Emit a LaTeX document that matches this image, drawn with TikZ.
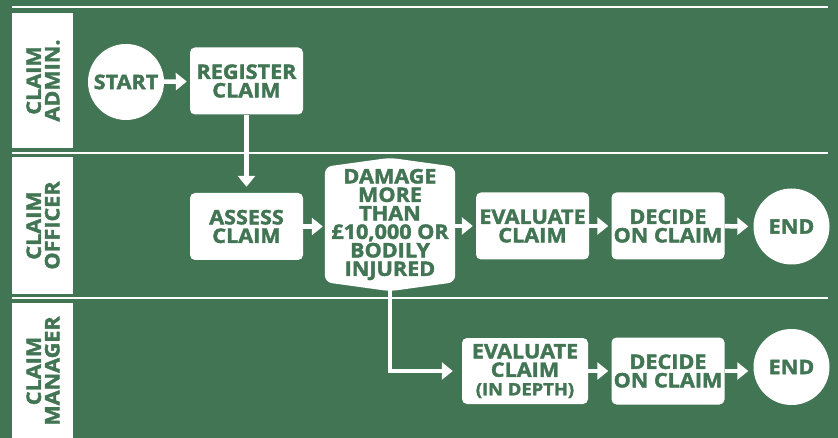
\documentclass[tikz,border=0pt]{standalone}
\usepackage{fontspec}
\setmainfont{Open Sans}[BoldFeatures={FakeBold=2,FakeStretch=1.08}]
\usetikzlibrary{arrows.meta}
\definecolor{lanegreen}{RGB}{66,117,83}
\pgfdeclarelayer{background}
\pgfsetlayers{background,main}

\begin{document}
\begin{tikzpicture}[x=1pt,y=-1pt,
  font=\bfseries\fontsize{20}{18.5}\selectfont,
  task/.style={rectangle,rounded corners=5pt,fill=white,text=lanegreen,align=center,minimum width=113pt,minimum height=67pt,inner sep=0pt},
  term/.style={circle,fill=white,text=lanegreen,minimum size=76pt,inner sep=0pt},
  lanebox/.style={fill=white},
  lanetext/.style={rotate=90,text=lanegreen,align=center,inner sep=0pt},
  flow/.style={white,line width=4.5pt,-{Triangle[width=17pt,length=11pt]}},
  sep/.style={white,line width=2.5pt}]
\useasboundingbox (0,0) rectangle (838,438);
\begin{pgfonlayer}{background}
\fill[lanegreen] (0,0) rectangle (838,438);
\end{pgfonlayer}

% lanes
\draw[sep] (12,7) -- (828,7);
\draw[sep] (12,153) -- (828,153);
\draw[sep] (12,298) -- (828,298);
\fill[lanebox] (12,13) rectangle (73,148);
\fill[lanebox] (12,157) rectangle (73,294);
\fill[lanebox] (12,303) rectangle (73,440);
\node[lanetext] (admin) at (43,80.5) {CLAIM\\ADMIN.};
\node[lanetext] (officer) at (43,225.5) {CLAIM\\OFFICER};
\node[lanetext] (manager) at (43,371) {CLAIM\\MANAGER};

% claim admin.
\node[term] (start) at (126,82) {START};
\node[task] (register) at (246.5,81) {REGISTER\\CLAIM};

% claim officer
\node[task] (assess) at (246.5,226.5) {ASSESS\\CLAIM};
\node[align=center,text=lanegreen,inner sep=0pt,minimum width=130pt,minimum height=131pt] (damage) at (390,224.5) {DAMAGE\\MORE\\THAN\\£10,000 OR\\BODILY\\INJURED};
\begin{pgfonlayer}{background}
\fill[white,rounded corners=7pt] ([yshift=1pt]damage.north) -- ([yshift=-8pt]damage.north east) -- ([yshift=8pt]damage.south east) -- ([yshift=-1pt]damage.south) -- ([yshift=8pt]damage.south west) -- ([yshift=-8pt]damage.north west) -- cycle;
\end{pgfonlayer}
\node[task] (evaluate) at (532.5,226) {EVALUATE\\CLAIM};
\node[task] (decide) at (668,226) {DECIDE\\ON CLAIM};
\node[term] (end) at (791.5,226.5) {END};

% claim manager
\node[task,minimum width=126pt,minimum height=66pt] (deep) at (525,371) {EVALUATE\\CLAIM\\{\fontsize{17}{17}\selectfont(IN DEPTH)}};
\node[task] (decidedeep) at (668,371) {DECIDE\\ON CLAIM};
\node[term] (enddeep) at (791.5,367) {END};

% flow
\draw[flow,shorten >=3pt] (start) -- (register);
\draw[flow,shorten >=6pt] (register) -- (assess);
\draw[flow,shorten >=2pt] (assess.east) -- (assess.east -| damage.west);
\draw[flow,shorten >=3pt] (damage.east |- evaluate.west) -- (evaluate.west);
\draw[flow,shorten >=3pt] (evaluate) -- (decide);
\draw[flow,shorten >=5pt] (decide) -- (end);
\draw[flow,shorten >=9pt] (damage.south) |- (deep.west);
\draw[flow,shorten >=3pt] (deep) -- (decidedeep);
\draw[flow,shorten >=5pt] (decidedeep.east) -- (decidedeep.east -| enddeep.west);
\end{tikzpicture}
\end{document}
